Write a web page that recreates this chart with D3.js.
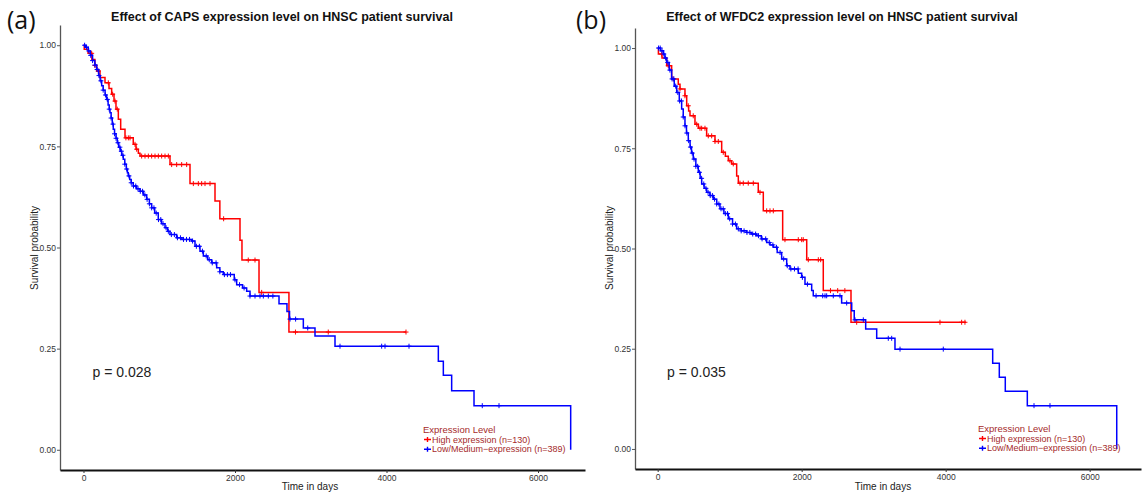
<!DOCTYPE html>
<html><head><meta charset="utf-8">
<script src="https://cdn.jsdelivr.net/npm/d3@7"></script>
<style>
html,body{margin:0;padding:0;background:#fff;}
svg text{font-family:"Liberation Sans",Arial,sans-serif;}
</style></head>
<body><svg id="chart" width="1146" height="494"></svg>
<script>
// ---------- Panel (a): CAPS ----------
const capsTitle = "Effect of CAPS expression level on HNSC patient survival";
const capsP = "p = 0.028";
const capsHighTime = [0,10,60,110,150,174,218,284,337,372,403,429,460,491,548,657,693,724,746,1142,1406,1736,1800,2066,2092,2317,2712];
const capsHighSurv = [1,0.99,0.98,0.965,0.95,0.936,0.92,0.907,0.893,0.879,0.862,0.842,0.817,0.792,0.771,0.755,0.743,0.733,0.726,0.705,0.658,0.615,0.571,0.518,0.469,0.389,0.291];
const capsHighEnd = 4257;
const capsHighCensor = [108,152,196,328,385,416,446,560,592,614,680,702,768,812,856,900,944,988,1032,1076,1120,1164,1230,1296,1362,1450,1516,1560,1604,1670,1850,2175,2264,2352,2798,3231,4257];
const capsLowTime = [0,30,63,90,120,150,174,200,220,240,260,285,306,325,340,350,365,380,393,410,430,446,465,485,505,525,545,565,580,591,610,630,657,700,746,790,834,870,900,940,987,1030,1076,1110,1142,1230,1300,1428,1472,1538,1582,1640,1692,1758,1800,1845,1990,2022,2100,2154,2198,2581,2686,2720,2902,3056,3320,4684,4750,4860,5155,6431];
const capsLowSurv = [1,0.995,0.986,0.975,0.962,0.951,0.94,0.925,0.912,0.9,0.889,0.877,0.866,0.852,0.842,0.833,0.82,0.805,0.792,0.781,0.77,0.759,0.748,0.738,0.728,0.718,0.706,0.694,0.685,0.677,0.668,0.66,0.652,0.645,0.639,0.63,0.619,0.608,0.598,0.585,0.569,0.559,0.549,0.54,0.532,0.524,0.52,0.516,0.503,0.491,0.479,0.47,0.462,0.45,0.44,0.433,0.42,0.408,0.4,0.392,0.38,0.361,0.342,0.323,0.301,0.281,0.256,0.219,0.184,0.146,0.109,0];
const capsLowEnd = 6431;
const capsLowCensor = [15,40,70,95,120,150,180,205,230,260,290,315,340,365,390,410,430,455,480,500,520,545,570,600,630,660,690,720,750,780,810,840,870,900,930,960,990,1020,1050,1090,1120,1160,1200,1240,1280,1320,1360,1400,1440,1490,1530,1570,1620,1660,1700,1750,1800,1860,1900,1940,2000,2060,2120,2198,2264,2330,2374,2440,2500,2726,2800,2960,3386,3936,3980,4297,5264,5485];

// ---------- Panel (b): WFDC2 ----------
const wfdcTitle = "Effect of WFDC2 expression level on HNSC patient survival";
const wfdcP = "p = 0.035";
const wfdcHighTime = [0,10,60,125,194,286,310,379,403,430,449,518,564,680,796,889,940,981,1028,1097,1120,1397,1467,1736,2070,2300,2685];
const wfdcHighSurv = [1,0.985,0.975,0.956,0.923,0.91,0.898,0.881,0.856,0.843,0.831,0.81,0.8,0.781,0.767,0.74,0.73,0.719,0.711,0.681,0.663,0.64,0.594,0.522,0.472,0.395,0.316];
const wfdcHighEnd = 4282;
const wfdcHighCensor = [56,147,217,310,379,425,494,542,588,611,657,703,750,796,842,911,1004,1050,1143,1189,1258,1328,1421,1514,1560,1606,1768,1953,2000,2022,2092,2231,2264,2400,2500,2600,2764,3921,4222,4268];
const wfdcLowTime = [0,40,79,100,125,160,194,230,264,300,333,355,379,400,425,450,470,494,530,564,590,611,645,680,725,773,820,865,920,981,1040,1097,1160,1236,1300,1375,1440,1514,1560,1606,1660,1722,1792,1838,1953,2000,2046,2139,2161,2555,2695,2730,2889,3042,3296,4653,4745,4828,5134,6376];
const wfdcLowSurv = [1,0.993,0.985,0.975,0.964,0.945,0.923,0.905,0.889,0.868,0.848,0.828,0.806,0.788,0.769,0.753,0.738,0.723,0.705,0.69,0.675,0.661,0.65,0.64,0.632,0.623,0.611,0.599,0.587,0.574,0.561,0.549,0.544,0.54,0.536,0.532,0.524,0.515,0.509,0.503,0.49,0.474,0.457,0.449,0.438,0.428,0.411,0.395,0.382,0.364,0.345,0.322,0.299,0.276,0.249,0.214,0.179,0.144,0.108,0];
const wfdcLowEnd = 6376;
const wfdcLowCensor = [12,35,60,85,110,140,170,200,225,250,280,305,330,355,380,405,430,455,480,505,530,555,580,610,640,670,700,730,760,790,820,850,880,910,940,970,1000,1040,1080,1120,1160,1200,1240,1280,1320,1360,1400,1450,1500,1550,1600,1650,1700,1750,1800,1850,1900,1950,2010,2080,2200,2292,2324,2347,2439,2532,2625,2741,2856,3203,3250,3366,3967,5227,5449];

// ---------- Shared text ----------
const xTicks = [0,2000,4000,6000];
const yTicks = [0,0.25,0.5,0.75,1];
const legendTitle = "Expression Level";
const legendLabels = ["High expression (n=130)","Low/Medium\u2212expression (n=389)"];
const seriesColors = ["#ff0000","#0000ff"];

const svg = d3.select("#chart");

function survAt(T,S,t){ let s=S[0]; for(let i=0;i<T.length;i++){ if(T[i]<=t) s=S[i]; } return s; }

function panel(cfg){
  const g = svg.append("g");
  const x = d3.scaleLinear().domain(cfg.xDom).range([cfg.left,cfg.right]);
  const y = d3.scaleLinear().domain([-0.05,1.05]).range([cfg.bottom,cfg.top]);

  // y axis
  const ya = g.append("g").attr("transform",`translate(${cfg.left},0)`)
    .call(d3.axisLeft(y).tickValues(yTicks).tickFormat(d3.format(".2f")).tickSize(3).tickSizeOuter(0).tickPadding(1));
  ya.select(".domain").attr("stroke","#555").attr("stroke-width",1.3);
  ya.selectAll(".tick line").attr("stroke","#555");
  ya.selectAll(".tick text").attr("fill","#333").style("font-size","8.5px");
  // x axis
  const xa = g.append("g").attr("transform",`translate(0,${cfg.bottom})`)
    .call(d3.axisBottom(x).tickValues(xTicks).tickFormat(d3.format("d")).tickSize(3).tickSizeOuter(0).tickPadding(2));
  xa.select(".domain").attr("stroke","#111").attr("stroke-width",2);
  xa.selectAll(".tick line").attr("stroke","#333");
  xa.selectAll(".tick text").attr("fill","#333").style("font-size","8.5px");

  // curves
  const line = d3.line().x(d=>x(d[0])).y(d=>y(d[1])).curve(d3.curveStepAfter);
  cfg.series.forEach((s,k)=>{
    const pts = s.T.map((t,i)=>[t,s.S[i]]);
    if(s.end > s.T[s.T.length-1]) pts.push([s.end, s.S[s.S.length-1]]);
    g.append("path").datum(pts).attr("d",line).attr("fill","none")
      .attr("stroke",seriesColors[k]).attr("stroke-width",1.5);
    g.append("g").selectAll("path").data(s.C).join("path")
      .attr("d",c=>{const px=x(c), py=y(survAt(s.T,s.S,c)); return `M${px-2.5},${py}H${px+2.5}M${px},${py-2.5}V${py+2.5}`;})
      .attr("stroke",seriesColors[k]).attr("stroke-width",1).attr("fill","none");
  });

  // title
  g.append("text").attr("x",cfg.titleX).attr("y",21).attr("text-anchor","middle")
    .style("font-size","12.5px").style("font-weight","bold").attr("fill","#111").text(cfg.title);
  // panel tag
  g.append("text").attr("x",cfg.tagX).attr("y",29).style("font-family","'Open Sans',sans-serif")
    .style("font-size","25px").attr("fill","#111").text(cfg.tag);
  // axis titles
  g.append("text").attr("x",cfg.xLabelX).attr("y",490).attr("text-anchor","middle")
    .style("font-size","10px").attr("fill","#222").text("Time in days");
  g.append("text").attr("transform",`translate(${cfg.yLabelX},248) rotate(-90)`).attr("text-anchor","middle")
    .style("font-size","10px").attr("fill","#222").text("Survival probability");
  // p value
  g.append("text").attr("x",x(cfg.pT)).attr("y",y(cfg.pS)).style("font-size","14px").attr("fill","#222").text(cfg.p);
  // legend
  const lg = g.append("g").attr("transform",`translate(${cfg.legX},${cfg.legY})`);
  lg.append("text").attr("x",0).attr("y",0).style("font-size","9.5px").attr("fill","#a52a2a").text(legendTitle);
  legendLabels.forEach((lab,k)=>{
    const yy = 9.5 + k*9.7;
    lg.append("path").attr("d",`M1,${yy-3}H8M4.5,${yy-5.5}V${yy-0.5}`).attr("stroke",seriesColors[k]).attr("stroke-width",1.4);
    lg.append("text").attr("x",9).attr("y",yy).style("font-size","9px").attr("fill","#a52a2a").text(lab);
  });
}

panel({left:60,right:585,top:25,bottom:470,xDom:[-310,6620],
  title:capsTitle,titleX:282,tag:"(a)",tagX:7,xLabelX:310,yLabelX:38,
  p:capsP,pT:120,pS:0.18,legX:423,legY:433,
  series:[{T:capsHighTime,S:capsHighSurv,end:capsHighEnd,C:capsHighCensor},
          {T:capsLowTime,S:capsLowSurv,end:capsLowEnd,C:capsLowCensor}]});
panel({left:635,right:1141,top:28,bottom:469,xDom:[-315,6713],
  title:wfdcTitle,titleX:842,tag:"(b)",tagX:576,xLabelX:883,yLabelX:613,
  p:wfdcP,pT:130,pS:0.18,legX:978,legY:432,
  series:[{T:wfdcHighTime,S:wfdcHighSurv,end:wfdcHighEnd,C:wfdcHighCensor},
          {T:wfdcLowTime,S:wfdcLowSurv,end:wfdcLowEnd,C:wfdcLowCensor}]});
</script></body></html>
